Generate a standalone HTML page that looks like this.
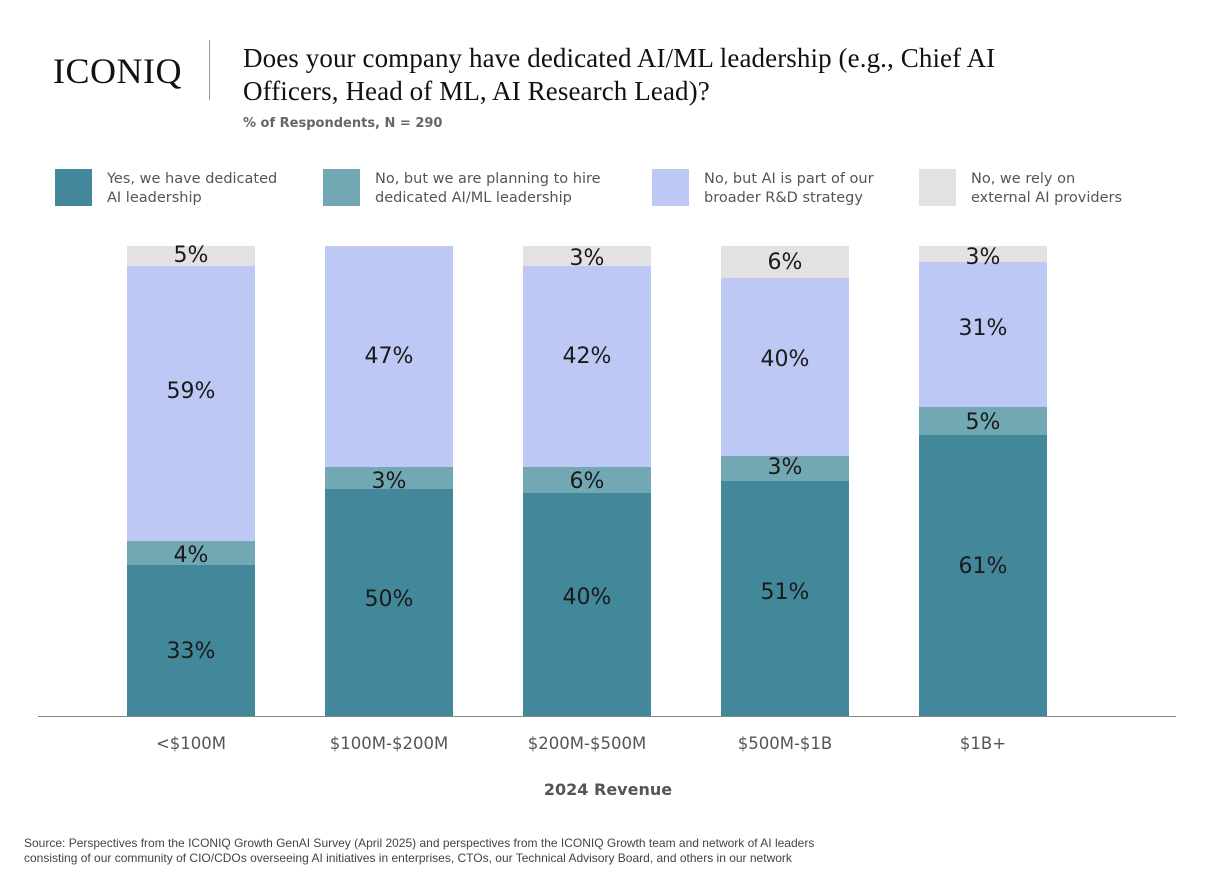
<!DOCTYPE html>
<html><head><meta charset="utf-8"><style>
body{margin:0;width:1216px;height:882px;background:#fff;position:relative;overflow:hidden;font-family:"Liberation Sans","DejaVu Sans",sans-serif}
.a{position:absolute}
.s{position:absolute;width:128px}
.l{position:absolute;width:128px;text-align:center;font-family:"DejaVu Sans",sans-serif;font-size:22px;color:#1a1a1a;line-height:24px}
.lg{position:absolute;top:170px;font-family:"DejaVu Sans",sans-serif;font-size:14.5px;color:#555;line-height:19px}
.sw{position:absolute;top:169px;width:37px;height:37px}
.x{position:absolute;top:734px;width:200px;text-align:center;font-family:"DejaVu Sans",sans-serif;font-size:16.5px;color:#555}
</style></head><body>
<div class="a" style="left:53px;top:50px;font-family:'Liberation Serif',serif;font-size:36px;color:#111;letter-spacing:0.5px">ICONIQ</div>
<div class="a" style="left:209px;top:40px;width:1px;height:60px;background:#999"></div>
<div class="a" style="left:243px;top:42px;font-family:'Liberation Serif',serif;font-size:27px;line-height:33px;color:#111;letter-spacing:0.1px">Does your company have dedicated AI/ML leadership (e.g., Chief AI<br>Officers, Head of ML, AI Research Lead)?</div>
<div class="a" style="left:243px;top:116px;font-family:'DejaVu Sans',sans-serif;font-size:13px;color:#666;font-weight:bold">% of Respondents, N = 290</div>

<div class="sw" style="left:55px;background:#43889a"></div><div class="lg" style="left:107px">Yes, we have dedicated<br>AI leadership</div>
<div class="sw" style="left:323px;background:#71a8b3"></div><div class="lg" style="left:375px">No, but we are planning to hire<br>dedicated AI/ML leadership</div>
<div class="sw" style="left:652px;background:#bec8f4"></div><div class="lg" style="left:704px">No, but AI is part of our<br>broader R&amp;D strategy</div>
<div class="sw" style="left:919px;background:#e2e2e2"></div><div class="lg" style="left:971px">No, we rely on<br>external AI providers</div>

<div class="s" style="left:127px;top:246px;height:20px;background:#e2e2e2"></div>
<div class="s" style="left:127px;top:266px;height:275px;background:#bec8f4"></div>
<div class="s" style="left:127px;top:541px;height:24px;background:#71a8b3"></div>
<div class="s" style="left:127px;top:565px;height:151px;background:#43889a"></div>
<div class="l" style="left:127px;top:244px">5%</div><div class="l" style="left:127px;top:380px">59%</div><div class="l" style="left:127px;top:544px">4%</div><div class="l" style="left:127px;top:640px">33%</div>

<div class="s" style="left:325px;top:246px;height:221px;background:#bec8f4"></div>
<div class="s" style="left:325px;top:467px;height:22px;background:#71a8b3"></div>
<div class="s" style="left:325px;top:489px;height:227px;background:#43889a"></div>
<div class="l" style="left:325px;top:345px">47%</div><div class="l" style="left:325px;top:470px">3%</div><div class="l" style="left:325px;top:588px">50%</div>

<div class="s" style="left:523px;top:246px;height:20px;background:#e2e2e2"></div>
<div class="s" style="left:523px;top:266px;height:201px;background:#bec8f4"></div>
<div class="s" style="left:523px;top:467px;height:26px;background:#71a8b3"></div>
<div class="s" style="left:523px;top:493px;height:223px;background:#43889a"></div>
<div class="l" style="left:523px;top:247px">3%</div><div class="l" style="left:523px;top:345px">42%</div><div class="l" style="left:523px;top:470px">6%</div><div class="l" style="left:523px;top:586px">40%</div>

<div class="s" style="left:721px;top:246px;height:32px;background:#e2e2e2"></div>
<div class="s" style="left:721px;top:278px;height:178px;background:#bec8f4"></div>
<div class="s" style="left:721px;top:456px;height:25px;background:#71a8b3"></div>
<div class="s" style="left:721px;top:481px;height:235px;background:#43889a"></div>
<div class="l" style="left:721px;top:251px">6%</div><div class="l" style="left:721px;top:348px">40%</div><div class="l" style="left:721px;top:456px">3%</div><div class="l" style="left:721px;top:581px">51%</div>

<div class="s" style="left:919px;top:246px;height:16px;background:#e2e2e2"></div>
<div class="s" style="left:919px;top:262px;height:145px;background:#bec8f4"></div>
<div class="s" style="left:919px;top:407px;height:28px;background:#71a8b3"></div>
<div class="s" style="left:919px;top:435px;height:281px;background:#43889a"></div>
<div class="l" style="left:919px;top:246px">3%</div><div class="l" style="left:919px;top:317px">31%</div><div class="l" style="left:919px;top:411px">5%</div><div class="l" style="left:919px;top:555px">61%</div>

<div class="a" style="left:38px;top:716px;width:1138px;height:1px;background:#888"></div>
<div class="x" style="left:91px">&lt;$100M</div>
<div class="x" style="left:289px">$100M-$200M</div>
<div class="x" style="left:487px">$200M-$500M</div>
<div class="x" style="left:685px">$500M-$1B</div>
<div class="x" style="left:883px">$1B+</div>
<div class="a" style="left:508px;top:780px;width:200px;text-align:center;font-family:'DejaVu Sans',sans-serif;font-size:16px;font-weight:bold;color:#555">2024 Revenue</div>
<div class="a" style="left:24px;top:836px;font-size:12px;line-height:15px;color:#444">Source: Perspectives from the ICONIQ Growth GenAI Survey (April 2025) and perspectives from the ICONIQ Growth team and network of AI leaders<br>consisting of our community of CIO/CDOs overseeing AI initiatives in enterprises, CTOs, our Technical Advisory Board, and others in our network</div>
</body></html>
